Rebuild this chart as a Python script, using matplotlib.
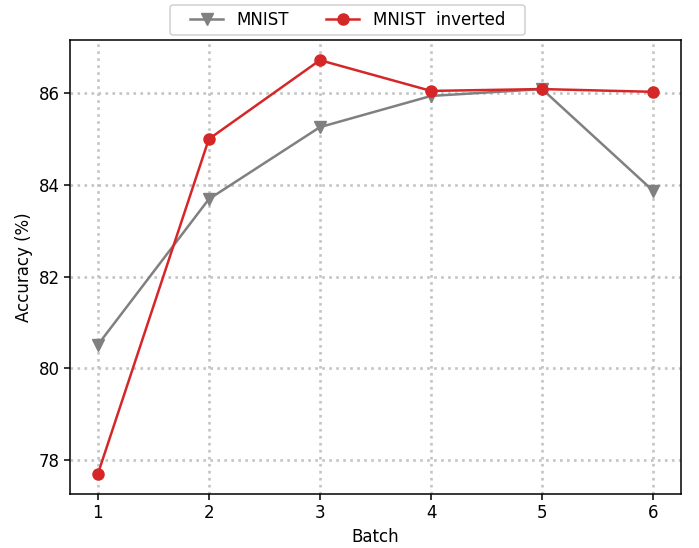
import numpy as np
import matplotlib
matplotlib.use("Agg")
import matplotlib.pyplot as plt
from matplotlib.patches import FancyBboxPatch

# batches and accuracies
batches = [1, 2, 3, 4, 5, 6]
acc_mnist = [80.51, 83.69, 85.26, 85.94, 86.09, 83.87]
acc_mnist_inv = [77.69, 85.00, 86.72, 86.05, 86.09, 86.03]
y_ticks = [78, 80, 82, 84, 86]

plt.rcParams['font.size'] = 12
plt.rcParams['axes.linewidth'] = 1.1

fig = plt.figure(figsize=(6.99, 5.48), dpi=100)
ax = fig.add_axes([0.1001, 0.0985, 0.8741, 0.8285])

ax.plot(batches, acc_mnist, marker='v', color='gray', linewidth=1.8,
        markersize=8, label='MNIST')
ax.plot(batches, acc_mnist_inv, marker='o', color='tab:red', linewidth=1.8,
        markersize=8, label='MNIST  inverted')

ax.set_xlim(0.75, 6.25)
ax.set_ylim(77.26, 87.16)
ax.set_xticks(batches)
ax.set_yticks(y_ticks)
ax.tick_params(length=4, width=1.1)
ax.grid(True, linestyle=':', color='#c4c4c4', linewidth=1.9)
ax.set_axisbelow(True)
ax.set_xlabel('Batch')
ax.set_ylabel('Accuracy (%)')

# legend box (a bit wider than matplotlib's own frame)
frame = FancyBboxPatch((170 / 699, 1 - 35 / 548), 355 / 699, 30 / 548,
                       boxstyle='round,pad=0,rounding_size=0.005',
                       transform=fig.transFigure, facecolor='white',
                       edgecolor='#cccccc', linewidth=1.0)
fig.patches.append(frame)
fig.legend(loc='center', bbox_to_anchor=(347.5 / 699, 1 - 20 / 548), ncol=2,
           frameon=False, columnspacing=2.2)

fig.savefig('out.png', dpi=100)
